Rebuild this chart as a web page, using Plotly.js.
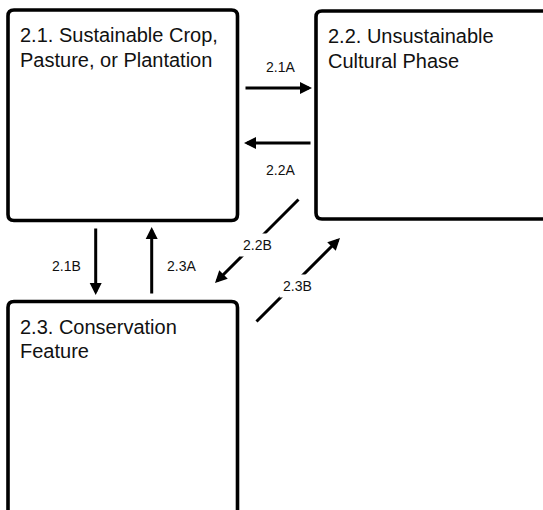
<!DOCTYPE html>
<html>
<head>
<meta charset="utf-8">
<script src="https://cdn.plot.ly/plotly-3.0.1.min.js"></script>
<style>html,body{margin:0;padding:0;background:#fff;}#chart{width:543px;height:510px;}</style>
</head>
<body>
<div id="chart"></div>
<script>
// Nodes (states) of the diagram: frame in pixel space (x0, x1, y0, y1)
var nodeIds = ["2.1", "2.2", "2.3"];
var nodeLine1 = ["2.1. Sustainable Crop,", "2.2. Unsustainable", "2.3. Conservation"];
var nodeLine2 = ["Pasture, or Plantation", "Cultural Phase", "Feature"];
var nodeX0 = [8, 316, 8];
var nodeX1 = [237.5, 565, 237.5];
var nodeY0 = [10, 11, 301.5];
var nodeY1 = [220.5, 219, 540];

// Transitions: label, tail (x,y), tip (x,y), label position
var transLabels = ["2.1A", "2.2A", "2.1B", "2.3A", "2.2B", "2.3B"];
var tailX = [244, 312, 95.7, 151.7, 300, 255];
var tailY = [88, 143, 227, 295, 198, 323];
var tipX  = [312, 244, 95.7, 151.7, 215, 340];
var tipY  = [88, 143, 295, 227, 283, 238];
var labX  = [280, 280, 66, 181, 257, 297];
var labY  = [67, 170, 266, 266, 245, 286];
var labBg = [false, false, false, false, true, true];

var FONT = "Liberation Sans, Arial, sans-serif";
var shapes = [];
var annotations = [];

function roundRect(x0, y0, x1, y1, r) {
  return "M" + (x0 + r) + "," + y0 +
    " L" + (x1 - r) + "," + y0 + " Q" + x1 + "," + y0 + " " + x1 + "," + (y0 + r) +
    " L" + x1 + "," + (y1 - r) + " Q" + x1 + "," + y1 + " " + (x1 - r) + "," + y1 +
    " L" + (x0 + r) + "," + y1 + " Q" + x0 + "," + y1 + " " + x0 + "," + (y1 - r) +
    " L" + x0 + "," + (y0 + r) + " Q" + x0 + "," + y0 + " " + (x0 + r) + "," + y0 + " Z";
}

for (var i = 0; i < nodeIds.length; i++) {
  shapes.push({
    type: "path", xref: "x", yref: "y",
    path: roundRect(nodeX0[i], nodeY0[i], nodeX1[i], nodeY1[i], 6),
    line: {color: "#000", width: 3.6}, fillcolor: "rgba(0,0,0,0)"
  });
  annotations.push({
    x: nodeX0[i] + 10, y: nodeY0[i] + 25, xref: "x", yref: "y",
    text: nodeLine1[i], showarrow: false, xanchor: "left", yanchor: "middle",
    font: {family: FONT, size: 20, color: "#111"}
  });
  annotations.push({
    x: nodeX0[i] + 10, y: nodeY0[i] + 49.5, xref: "x", yref: "y",
    text: nodeLine2[i], showarrow: false, xanchor: "left", yanchor: "middle",
    font: {family: FONT, size: 20, color: "#111"}
  });
}

for (var j = 0; j < transLabels.length; j++) {
  annotations.push({
    x: tipX[j], y: tipY[j], ax: tailX[j], ay: tailY[j],
    xref: "x", yref: "y", axref: "x", ayref: "y",
    text: "", showarrow: true, arrowhead: 2, arrowsize: 0.8,
    arrowwidth: 3, arrowcolor: "#000", standoff: 0
  });
}
for (var k = 0; k < transLabels.length; k++) {
  annotations.push({
    x: labX[k], y: labY[k], xref: "x", yref: "y",
    text: transLabels[k], showarrow: false, xanchor: "center", yanchor: "middle",
    bgcolor: labBg[k] ? "#fff" : "rgba(0,0,0,0)", borderpad: 3,
    font: {family: FONT, size: 14, color: "#111"}
  });
}

var layout = {
  width: 543, height: 510,
  margin: {l: 0, r: 0, t: 0, b: 0},
  paper_bgcolor: "#fff", plot_bgcolor: "#fff",
  xaxis: {range: [0, 543], visible: false, fixedrange: true},
  yaxis: {range: [510, 0], visible: false, fixedrange: true},
  shapes: shapes, annotations: annotations, showlegend: false
};

Plotly.newPlot("chart", [{x: [], y: [], type: "scatter", mode: "markers", hoverinfo: "skip"}], layout, {staticPlot: true, displayModeBar: false});
</script>
</body>
</html>
